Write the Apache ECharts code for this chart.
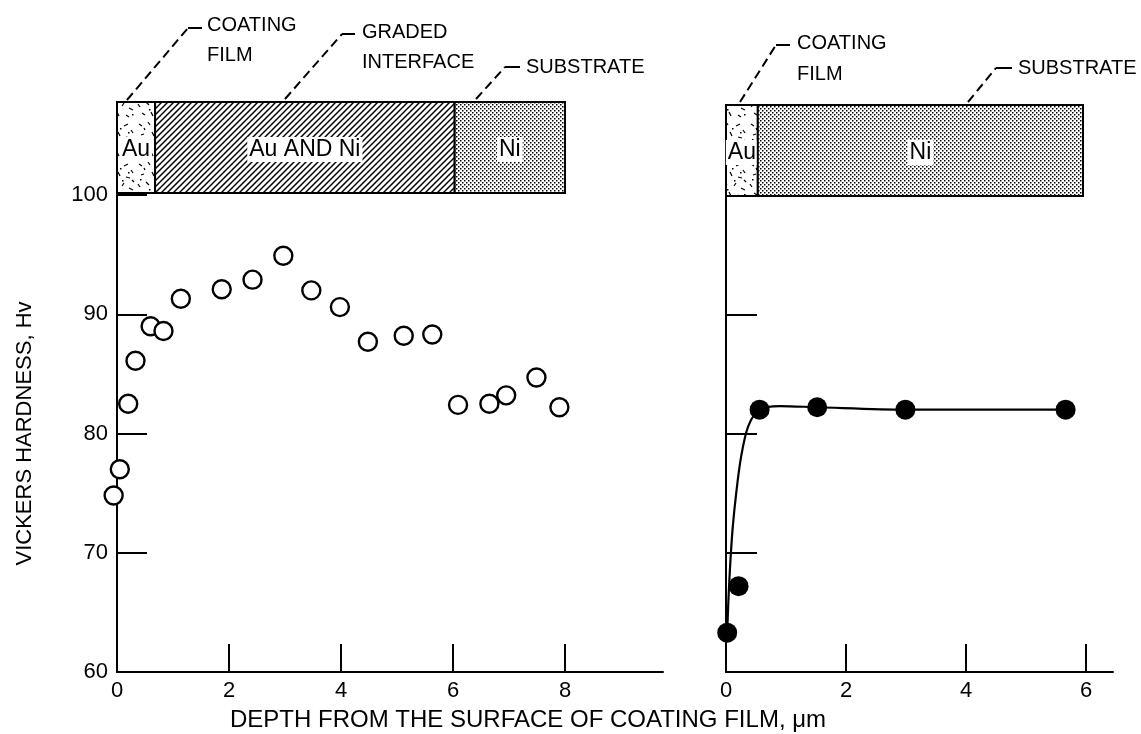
<!DOCTYPE html>
<html><head><meta charset="utf-8">
<script src="https://cdn.jsdelivr.net/npm/echarts@6/dist/echarts.min.js"></script>
<style>html,body{margin:0;padding:0;background:#fff}#c{width:1141px;height:734px}</style>
</head><body><div id="c"></div>
<script>
// ---- data ----
const leftDepth    = [-0.06,0.05,0.2,0.33,0.6,0.83,1.14,1.87,2.42,2.97,3.47,3.98,4.48,5.12,5.63,6.09,6.65,6.95,7.49,7.9];
const leftHardness = [74.8,77.0,82.5,86.1,89.0,88.6,91.3,92.1,92.9,94.9,92.0,90.6,87.7,88.2,88.3,82.4,82.5,83.2,84.7,82.2];
const rightDepth    = [0.02,0.21,0.56,1.52,2.99,5.66];
const rightHardness = [63.3,67.2,82.0,82.2,82.0,82.0];
const curveDepth    = [0.02,0.04,0.07,0.11,0.17,0.25,0.37,0.56,0.9,1.52,2.99,5.66];
const curveHardness = [63.3,66.0,69.0,72.0,75.0,78.0,80.6,82.0,82.3,82.2,82.0,82.0];
const yTickLabels = ['60','70','80','90','100'];
const leftXTickLabels = ['0','2','4','6','8'];
const rightXTickLabels = ['0','2','4','6'];
const leftLayers  = [[0,0.68,'Au'],[0.68,6.03,'Au AND Ni'],[6.03,8,'Ni']];
const rightLayers = [[0,0.53,'Au'],[0.53,5.95,'Ni']];

// ---- patterns ----
function mk(w,h,fn){const c=document.createElement('canvas');c.width=w;c.height=h;const g=c.getContext('2d');g.fillStyle='#fff';g.fillRect(0,0,w,h);fn(g);return c;}
const hatchC = mk(6,6,g=>{g.strokeStyle='#000';g.lineWidth=1.5;g.beginPath();
  g.moveTo(-1,7);g.lineTo(7,-1);g.moveTo(-4,4);g.lineTo(4,-4);g.moveTo(2,10);g.lineTo(10,2);g.stroke();});
const dotC = mk(4,4,g=>{g.fillStyle='#000';g.fillRect(0,0,1.5,1.5);g.fillRect(2,2,1.5,1.5);});
const speckC = mk(34,40,g=>{g.strokeStyle='#000';g.lineWidth=1.2;
  const s=[[3,4,6,6],[12,2,14,5],[22,6,26,4],[29,10,31,13],[5,15,8,14],[16,12,18,16],[24,17,28,18],[2,24,4,27],[10,22,13,25],[20,26,22,23],[27,28,31,30],[6,33,9,35],[15,32,17,36],[24,35,27,37],[30,20,32,22],[8,8,9,10]];
  s.forEach(a=>{g.beginPath();g.moveTo(a[0],a[1]);g.lineTo(a[2],a[3]);g.stroke();});
  g.fillStyle='#000';[[18,8],[4,19],[26,12],[13,29],[30,34],[20,20]].forEach(p=>g.fillRect(p[0],p[1],1.5,1.5));});
const patterns = {'Au':speckC,'Au AND Ni':hatchC,'Ni':dotC};

const FONT = '"Liberation Sans",Arial,sans-serif';

function layerRender(layers){
  return function(params, api){
    const x0=api.value(0), x1=api.value(1);
    const p0=api.coord([x0,1]), p1=api.coord([x1,0]);
    const name=layers[params.dataIndex][2];
    return {type:'group',children:[
      {type:'rect',shape:{x:p0[0],y:p0[1],width:p1[0]-p0[0],height:p1[1]-p0[1]},
       style:{fill:{image:patterns[name],repeat:'repeat'},stroke:'#000',lineWidth:2}},
      {type:'text',style:{text:name,x:(p0[0]+p1[0])/2,y:(p0[1]+p1[1])/2+2,align:'center',verticalAlign:'middle',
       font:'23px '+FONT,fill:'#000',backgroundColor:'#fff',padding:[1,2]}}
    ]};
  };
}

const axisLine={show:true,lineStyle:{color:'#000',width:2}};
const tickStyle={lineStyle:{color:'#000',width:2}};
const labelStyle={color:'#000',fontFamily:FONT,fontSize:22};

const chart=echarts.init(document.getElementById('c'),null,{renderer:'canvas'});
chart.setOption({
  animation:false,
  backgroundColor:'#fff',
  grid:[
    {left:117,top:195,width:546,height:477},
    {left:726,top:195,width:387,height:477},
    {left:117,top:102,width:448,height:91},
    {left:726,top:105,width:360,height:91}
  ],
  xAxis:[
    {gridIndex:0,type:'value',min:0,max:9.75,interval:2,axisLine:axisLine,
     axisTick:Object.assign({inside:true,length:28},tickStyle),splitLine:{show:false},
     axisLabel:Object.assign({margin:8,showMaxLabel:false,formatter:v=>leftXTickLabels.indexOf(String(v))>=0?String(v):''},labelStyle)},
    {gridIndex:1,type:'value',min:0,max:6.45,interval:2,axisLine:axisLine,
     axisTick:Object.assign({inside:true,length:28},tickStyle),splitLine:{show:false},
     axisLabel:Object.assign({margin:8,showMaxLabel:false,formatter:v=>rightXTickLabels.indexOf(String(v))>=0?String(v):''},labelStyle)},
    {gridIndex:2,type:'value',min:0,max:8,show:false},
    {gridIndex:3,type:'value',min:0,max:6,show:false}
  ],
  yAxis:[
    {gridIndex:0,type:'value',min:60,max:100,interval:10,axisLine:axisLine,
     axisTick:Object.assign({inside:true,length:30},tickStyle),splitLine:{show:false},
     axisLabel:Object.assign({margin:9,formatter:v=>yTickLabels.indexOf(String(v))>=0?String(v):''},labelStyle),
     name:'VICKERS HARDNESS, Hv',nameLocation:'middle',nameRotate:90,nameGap:81,
     nameTextStyle:{color:'#000',fontFamily:FONT,fontSize:22}},
    {gridIndex:1,type:'value',min:60,max:100,interval:10,axisLine:axisLine,
     axisTick:Object.assign({inside:true,length:31},tickStyle),splitLine:{show:false},
     axisLabel:{show:false}},
    {gridIndex:2,type:'value',min:0,max:1,show:false},
    {gridIndex:3,type:'value',min:0,max:1,show:false}
  ],
  series:[
    {type:'scatter',xAxisIndex:0,yAxisIndex:0,clip:false,symbol:'circle',symbolSize:18,
     itemStyle:{color:'#fff',borderColor:'#000',borderWidth:2.4,opacity:1},
     data:leftDepth.map((d,i)=>[d,leftHardness[i]])},
    {type:'line',xAxisIndex:1,yAxisIndex:1,smooth:0.3,showSymbol:false,symbol:'none',
     lineStyle:{color:'#000',width:2.2},data:curveDepth.map((d,i)=>[d,curveHardness[i]]),z:2},
    {type:'scatter',xAxisIndex:1,yAxisIndex:1,clip:false,symbol:'circle',symbolSize:20,
     itemStyle:{color:'#000',opacity:1},data:rightDepth.map((d,i)=>[d,rightHardness[i]]),z:3},
    {type:'custom',xAxisIndex:2,yAxisIndex:2,renderItem:layerRender(leftLayers),
     encode:{x:[0,1]},data:leftLayers.map(l=>[l[0],l[1]])},
    {type:'custom',xAxisIndex:3,yAxisIndex:3,renderItem:layerRender(rightLayers),
     encode:{x:[0,1]},data:rightLayers.map(l=>[l[0],l[1]])}
  ],
  graphic:[
    {type:'polyline',shape:{points:[[127,100],[188,28]]},style:{stroke:'#000',lineWidth:2,lineDash:[9,5]}},
    {type:'polyline',shape:{points:[[188,28],[202,28]]},style:{stroke:'#000',lineWidth:2}},
    {type:'polyline',shape:{points:[[285,99],[342,34]]},style:{stroke:'#000',lineWidth:2,lineDash:[9,5]}},
    {type:'polyline',shape:{points:[[342,34],[355,34]]},style:{stroke:'#000',lineWidth:2}},
    {type:'polyline',shape:{points:[[476,99],[505,67]]},style:{stroke:'#000',lineWidth:2,lineDash:[9,5]}},
    {type:'polyline',shape:{points:[[505,67],[520,67]]},style:{stroke:'#000',lineWidth:2}},
    {type:'polyline',shape:{points:[[740,102],[776,45]]},style:{stroke:'#000',lineWidth:2,lineDash:[9,5]}},
    {type:'polyline',shape:{points:[[776,45],[790,45]]},style:{stroke:'#000',lineWidth:2}},
    {type:'polyline',shape:{points:[[968,102],[996,68]]},style:{stroke:'#000',lineWidth:2,lineDash:[9,5]}},
    {type:'polyline',shape:{points:[[996,68],[1012,68]]},style:{stroke:'#000',lineWidth:2}},
    {type:'text',style:{text:'COATING',x:207,y:25,verticalAlign:'middle',font:'20px '+FONT,fill:'#000'}},
    {type:'text',style:{text:'FILM',x:207,y:55,verticalAlign:'middle',font:'20px '+FONT,fill:'#000'}},
    {type:'text',style:{text:'GRADED',x:362,y:32,verticalAlign:'middle',font:'20px '+FONT,fill:'#000'}},
    {type:'text',style:{text:'INTERFACE',x:362,y:62,verticalAlign:'middle',font:'20px '+FONT,fill:'#000'}},
    {type:'text',style:{text:'SUBSTRATE',x:526,y:67,verticalAlign:'middle',font:'20px '+FONT,fill:'#000'}},
    {type:'text',style:{text:'COATING',x:797,y:43,verticalAlign:'middle',font:'20px '+FONT,fill:'#000'}},
    {type:'text',style:{text:'FILM',x:797,y:74,verticalAlign:'middle',font:'20px '+FONT,fill:'#000'}},
    {type:'text',style:{text:'SUBSTRATE',x:1018,y:68,verticalAlign:'middle',font:'20px '+FONT,fill:'#000'}},
    {type:'text',style:{text:'DEPTH FROM THE SURFACE OF COATING FILM, μm',x:528,y:720,align:'center',verticalAlign:'middle',font:'24px '+FONT,fill:'#000'}}
  ]
});
</script></body></html>
